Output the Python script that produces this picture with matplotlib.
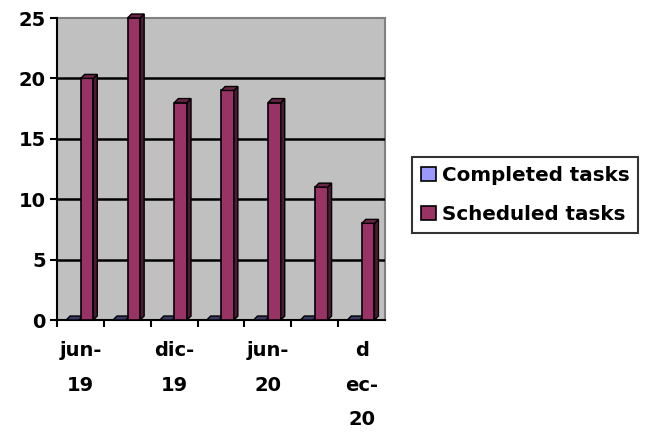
import matplotlib
matplotlib.use("Agg")
import matplotlib.pyplot as plt
from matplotlib.patches import Polygon, Patch
import numpy as np

categories = ["jun-19", "sep-19", "dic-19", "mar-20", "jun-20", "sep-20", "dec-20"]
tick_labels = ["jun-\n19", "", "dic-\n19", "", "jun-\n20", "", "d\nec-\n20"]
completed = [0, 0, 0, 0, 0, 0, 0]
scheduled = [20, 25, 18, 19, 18, 11, 8]

plt.rcParams["font.family"] = ["DejaVu Sans"]
plt.rcParams["font.weight"] = "bold"

fig = plt.figure(figsize=(6.52, 4.41), dpi=100)
ax = fig.add_axes([57/652, 1-320/441, (385-57)/652, (320-18)/441])
ax.set_facecolor("#C0C0C0")

x = np.arange(len(categories))
w = 0.27
c_comp = "#9999FF"
c_sched = "#993366"
dx, dy = 0.085, 0.33

ax.set_xlim(-0.5, len(categories) - 0.5)
ax.set_ylim(0, 25)

# gridlines
for v in [5, 10, 15, 20]:
    ax.axhline(v, color="black", lw=1.8, zorder=1)

def bar3d(xc, h, color, side, top):
    ax.bar(xc, h, width=w, color=color, edgecolor="black", lw=1.2, zorder=3, clip_on=False)
    l, r = xc - w/2, xc + w/2
    ax.add_patch(Polygon([(r, 0), (r + dx, dy), (r + dx, h + dy), (r, h)],
                         closed=True, fc=side, ec="black", lw=1.0, zorder=3, clip_on=False))
    ax.add_patch(Polygon([(l, h), (l + dx, h + dy), (r + dx, h + dy), (r, h)],
                         closed=True, fc=top, ec="black", lw=1.0, zorder=3, clip_on=False))

for xi, c, s in zip(x, completed, scheduled):
    bar3d(xi - 0.17, c, c_comp, "#333355", "#3A3A66")
    bar3d(xi + 0.14, s, c_sched, "#4D1A33", "#6B2447")

# spines
for sp in ["top", "right"]:
    ax.spines[sp].set_color("#808080")
    ax.spines[sp].set_linewidth(1.5)
    ax.spines[sp].set_zorder(0.5)
ax.spines["left"].set_color("black")
ax.spines["left"].set_linewidth(1.5)
ax.spines["bottom"].set_color("black")
ax.spines["bottom"].set_linewidth(1.5)

ax.set_yticks([0, 5, 10, 15, 20, 25])
ax.tick_params(axis="y", direction="out", length=5, width=1.5, labelsize=14, pad=3)
ax.set_xticks(x - 0.5, minor=False)
ax.set_xticklabels([])
ax.tick_params(axis="x", which="major", direction="out", length=5, width=1.5)
ax.set_xticks(x, minor=True)
ax.set_xticklabels(tick_labels, minor=True, fontsize=14, linespacing=2.05,
                   fontweight="bold")
ax.tick_params(axis="x", which="minor", length=0, pad=15)
for lab in ax.get_yticklabels():
    lab.set_fontweight("bold")

handles = [Patch(facecolor=c_comp, edgecolor="black", lw=1.2, label="Completed tasks"),
           Patch(facecolor=c_sched, edgecolor="black", lw=1.2, label="Scheduled tasks")]
leg = fig.legend(handles=handles, loc="center left", bbox_to_anchor=(412/652, 1-195/441),
                 frameon=True, fancybox=False, edgecolor="black",
                 prop={"size": 14.3, "weight": "bold"},
                 handlelength=0.75, handleheight=0.75, handletextpad=0.3,
                 borderpad=0.45, labelspacing=1.0, borderaxespad=0)
leg.get_frame().set_linewidth(1.5)

fig.savefig("out.png", dpi=100)
